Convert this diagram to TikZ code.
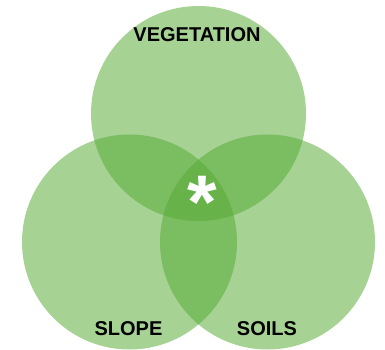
\documentclass[tikz,border=0pt]{standalone}
\usepackage{fontspec}
\setmainfont{Liberation Sans}
\usetikzlibrary{positioning}
\definecolor{leafgreen}{RGB}{86,170,52}
\tikzset{
  set/.style={circle, fill=leafgreen, fill opacity=0.53, inner sep=0pt,
    outer sep=0pt, minimum size=215pt},
  setlabel/.style={font=\fontsize{20}{22}\selectfont\bfseries, text=black}
}

\begin{document}
\begin{tikzpicture}[x=1pt, y=-1pt]
  \useasboundingbox (0,0) rectangle (385,350);
  \foreach \name/\cx/\cy in {veg/198.5/113.5, slope/129.5/242,
                              soils/267.5/242}{%
    \node[set] (\name) at (\cx,\cy) {};}
  \node[setlabel] (veglab) at (197,35) {VEGETATION};
  \node[setlabel] (slopelab) at (128.5,329) {SLOPE};
  \node[setlabel] (soilslab) at (267,329) {SOILS};
  \node[text=white, font=\fontsize{76}{76}\selectfont\bfseries,
    inner sep=0pt] (core) at (202,202) {*};
\end{tikzpicture}
\end{document}
